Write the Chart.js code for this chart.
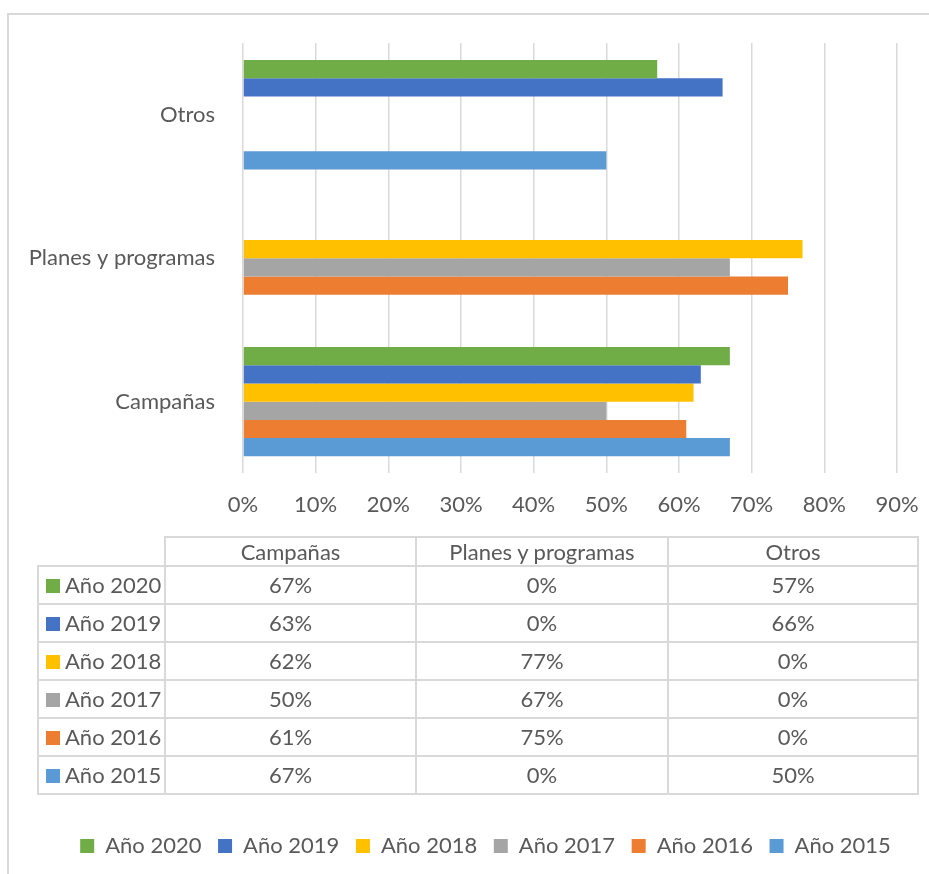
<!DOCTYPE html>
<html>
<head>
<meta charset="utf-8">
<script src="https://cdn.jsdelivr.net/npm/chart.js@4.4.1/dist/chart.umd.min.js"></script>
<style>
  html, body { margin: 0; padding: 0; background: #fff; }
  #wrap { position: relative; width: 929px; height: 874px; overflow: hidden; }
  #marco { position: absolute; left: 7px; top: 13px; width: 1000px; height: 1000px; border: 2px solid #d9d9d9; box-sizing: border-box; }
  #grafico { position: absolute; left: 0; top: 0; }
  #tabla { position: absolute; left: 37px; top: 536px; border-collapse: collapse; table-layout: fixed;
           font-family: Lato, sans-serif; font-size: 22px; color: #595959; }
  #tabla td { border: 2px solid #d9d9d9; text-align: center; padding: 0; height: 36px; line-height: 22px; }
  #tabla tr.cab td { height: 27px; }
  #tabla td.vacia { border-top: none; border-left: none; }
  #tabla td.serie { text-align: left; padding-left: 7px; white-space: nowrap; }
  .clave { display: inline-block; width: 14px; height: 14px; margin-right: 5px; vertical-align: 0px; }
</style>
</head>
<body>
<div id="wrap">
  <div id="marco"></div>
  <canvas id="grafico" width="929" height="874"></canvas>
  <table id="tabla"></table>
</div>
<script>
// --- datos ---
const categorias = ['Campañas', 'Planes y programas', 'Otros'];
const series = ['Año 2020', 'Año 2019', 'Año 2018', 'Año 2017', 'Año 2016', 'Año 2015'];
const colores = ['#70AD47', '#4472C4', '#FFC000', '#A5A5A5', '#ED7D31', '#5B9BD5'];
const anio2020 = [67, 0, 57];
const anio2019 = [63, 0, 66];
const anio2018 = [62, 77, 0];
const anio2017 = [50, 67, 0];
const anio2016 = [61, 75, 0];
const anio2015 = [67, 0, 50];
const valores = [anio2020, anio2019, anio2018, anio2017, anio2016, anio2015];
const ejeMax = 90;
const paso = 10;

const gris = '#595959';
const fuente = { family: 'Lato', size: 22 };

// el gráfico muestra "Otros" arriba, así que se invierte el orden
const etiquetasY = categorias.slice().reverse();

const datasets = series.map((nombre, i) => ({
    label: nombre,
    data: valores[i].slice().reverse(),
    backgroundColor: colores[i],
    borderWidth: 0
}));

// mover la leyenda para centrarla como en Excel
const moverLeyenda = {
    id: 'moverLeyenda',
    afterLayout(chart) {
        chart.legend.left += 37;
        chart.legend.right += 37;
    }
};

new Chart(document.getElementById('grafico'), {
    type: 'bar',
    data: { labels: etiquetasY, datasets: datasets },
    options: {
        indexAxis: 'y',
        responsive: false,
        animation: false,
        layout: { padding: { top: 43, right: 32, bottom: 7, left: 0 } },
        datasets: { bar: { categoryPercentage: 0.762, barPercentage: 1 } },
        scales: {
            x: {
                min: 0,
                max: ejeMax,
                ticks: { stepSize: paso, callback: v => v + '%', padding: 18, color: gris, font: fuente },
                grid: { color: '#d9d9d9', lineWidth: 1.5, drawTicks: false },
                border: { display: false },
                afterFit: s => { s.height = 345; s.paddingLeft = 0; s.paddingRight = 0; }
            },
            y: {
                ticks: { padding: 28, color: gris, font: fuente },
                grid: { display: false, drawTicks: false },
                border: { display: false },
                afterFit: s => { s.width = 243; }
            }
        },
        plugins: {
            legend: {
                position: 'bottom',
                labels: { color: gris, font: fuente, boxWidth: 14, boxHeight: 14, padding: 16.6 }
            },
            tooltip: { enabled: false }
        }
    },
    plugins: [moverLeyenda]
});

// --- tabla de datos ---
const tabla = document.getElementById('tabla');
const anchos = [127, 251, 252, 250];
let html = '<colgroup>' + anchos.map(w => `<col style="width:${w}px">`).join('') + '</colgroup>';
html += '<tr class="cab"><td class="vacia"></td>' + categorias.map(c => `<td>${c}</td>`).join('') + '</tr>';
series.forEach((nombre, i) => {
    html += `<tr><td class="serie"><span class="clave" style="background:${colores[i]}"></span>${nombre}</td>`;
    html += valores[i].map(v => `<td>${v}%</td>`).join('') + '</tr>';
});
tabla.innerHTML = html;
</script>
</body>
</html>
